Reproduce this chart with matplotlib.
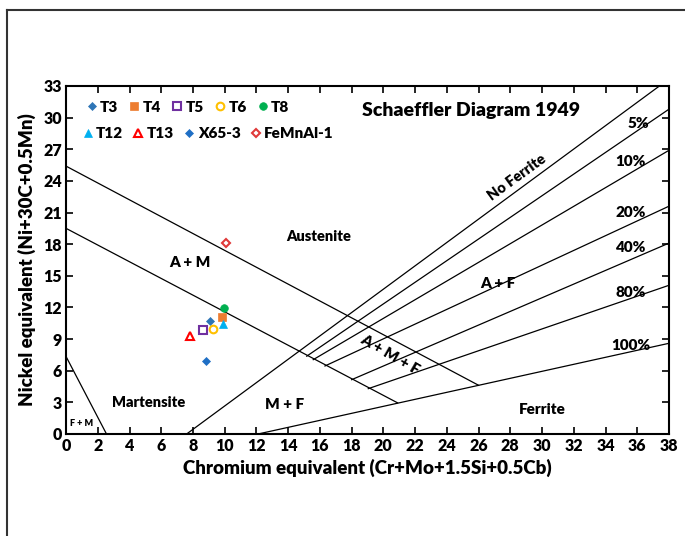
import matplotlib
matplotlib.use("Agg")
import matplotlib.pyplot as plt
from matplotlib.lines import Line2D

plt.rcParams['font.family'] = ['Lato', 'DejaVu Sans']
plt.rcParams['font.weight'] = 'heavy'
W = 'heavy'

# --- Schaeffler diagram boundaries (Cr_eq, Ni_eq endpoints) ---
fm_line = ([0, 2.55], [7.35, 0])
martensite_line = ([0, 20.9], [19.5, 2.95])
austenite_line = ([0, 26.0], [25.4, 4.62])
no_ferrite_line = ([7.6, 37.4], [0, 33])
ferrite_100_line = ([12.1, 38], [0, 8.6])

ferrite_pct = ['5%', '10%', '20%', '40%', '80%']
ferrite_start_x = [15.17, 15.58, 16.32, 18.0, 19.05]
ferrite_start_y = [7.38, 7.05, 6.45, 5.15, 4.3]
ferrite_end_y = [30.8, 26.9, 21.6, 18.1, 14.1]

pct_labels = ['5%', '10%', '20%', '40%', '80%', '100%']
pct_label_x = [36.1, 35.6, 35.6, 35.6, 35.6, 35.6]
pct_label_y = [29.4, 25.8, 21.0, 17.7, 13.4, 8.4]

# --- sample compositions ---
samples = ['T3', 'T4', 'T5', 'T6', 'T8', 'T12', 'T13', 'X65-3', 'FeMnAl-1']
cr_eq = [9.07, 9.83, 8.65, 9.24, 9.96, 9.87, 7.81, 8.82, 10.08]
ni_eq = [10.75, 11.1, 9.86, 9.96, 11.95, 10.4, 9.26, 6.88, 18.1]
colors = ['#2E75B6', '#ED7D31', '#7030A0', '#FFC000', '#00B050',
          '#00B0F0', '#FF0000', '#1F6FC5', '#E03A3A']
markers = ['D', 's', 's', 'o', 'o', '^', '^', 'D', 'D']
filled = [True, True, False, False, True, True, False, True, False]
sizes = [4.5, 5.5, 5.5, 5.5, 5.5, 5.5, 6, 4.5, 4.5]

fig = plt.figure(figsize=(6.85, 5.36), dpi=100)
ax = fig.add_axes([0.0964, 0.1903, 0.8802, 0.6493])

for xs, ys in [fm_line, martensite_line, austenite_line, no_ferrite_line, ferrite_100_line]:
    ax.plot(xs, ys, color='black', lw=0.9)
for x0, y0, y1 in zip(ferrite_start_x, ferrite_start_y, ferrite_end_y):
    ax.plot([x0, 38], [y0, y1], color='black', lw=0.9)

handles = []
for name, x, y, c, m, f, s in zip(samples, cr_eq, ni_eq, colors, markers, filled, sizes):
    h, = ax.plot(x, y, linestyle='none', marker=m, markersize=s,
                 markerfacecolor=c if f else 'white', markeredgecolor=c,
                 markeredgewidth=1.5 if not f else 0.5, label=name, zorder=5)
    handles.append(h)

# two legend rows, Excel style
leg_font = {'size': 11, 'weight': W}
leg1 = ax.legend(handles=handles[:5], ncol=5, loc='upper left', bbox_to_anchor=(0.025, 0.975),
                 frameon=False, prop=leg_font, handlelength=0.6, handletextpad=0.25,
                 columnspacing=0.75, borderaxespad=0)
ax.add_artist(leg1)
ax.legend(handles=handles[5:], ncol=4, loc='upper left', bbox_to_anchor=(0.018, 0.9),
          frameon=False, prop=leg_font, handlelength=0.6, handletextpad=0.25,
          columnspacing=0.7, borderaxespad=0)

# region labels
ax.text(15.9, 18.7, 'Austenite', ha='center', va='center', fontsize=10.5)
ax.text(7.8, 16.3, 'A + M', ha='center', va='center', fontsize=11)
ax.text(5.2, 3.0, 'Martensite', ha='center', va='center', fontsize=10.5)
ax.text(13.8, 2.75, 'M + F', ha='center', va='center', fontsize=11)
ax.text(30.0, 2.3, 'Ferrite', ha='center', va='center', fontsize=11)
ax.text(1.0, 0.95, 'F + M', ha='center', va='center', fontsize=6.5)
ax.text(27.2, 14.3, 'A + F', ha='center', va='center', fontsize=11)
ax.text(20.4, 7.5, 'A + M + F', ha='center', va='center', fontsize=11, rotation=-30)
ax.text(28.4, 24.3, 'No Ferrite', ha='center', va='center', fontsize=10.5, rotation=36)
for lab, x, y in zip(pct_labels, pct_label_x, pct_label_y):
    ax.text(x, y, lab, ha='center', va='center', fontsize=11)

ax.text(25.5, 30.7, 'Schaeffler Diagram 1949', ha='center', va='center', fontsize=14)

ax.set_xlim(0, 38)
ax.set_ylim(0, 33)
ax.set_xticks(range(0, 39, 2))
ax.set_yticks(range(0, 34, 3))
ax.tick_params(direction='in', length=5, width=1.2, top=True, right=True,
               labelsize=11.5, pad=3)
for lab in ax.get_xticklabels() + ax.get_yticklabels():
    lab.set_fontweight(W)
for sp in ax.spines.values():
    sp.set_linewidth(1.5)

ax.set_xlabel('Chromium equivalent (Cr+Mo+1.5Si+0.5Cb)', fontsize=13.5, fontweight=W, labelpad=3)
ax.set_ylabel('Nickel equivalent (Ni+30C+0.5Mn)', fontsize=13.5, fontweight=W, labelpad=5)

# outer frame (left and top edges)
fig.add_artist(Line2D([0.0095, 0.0095], [0, 0.981], color='#333333', lw=1.5))
fig.add_artist(Line2D([0.0095, 1.0], [0.981, 0.981], color='#333333', lw=1.5))

fig.savefig('out.png', dpi=100)
